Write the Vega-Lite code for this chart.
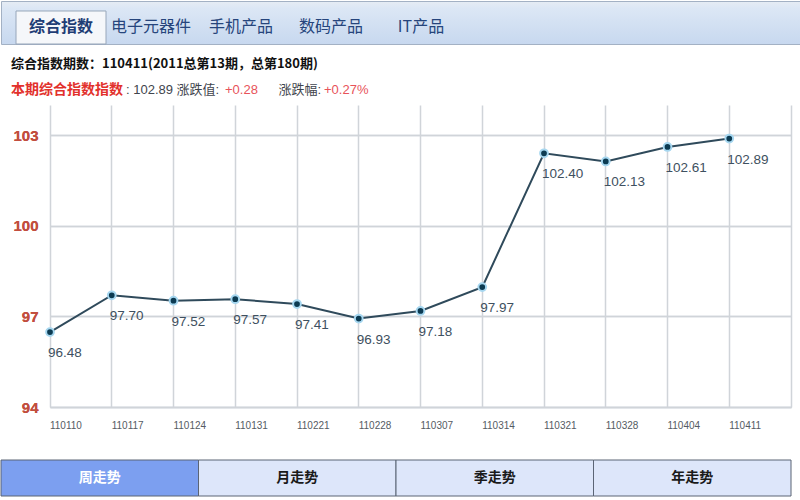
{
  "$schema": "https://vega.github.io/schema/vega-lite/v6.json",
  "padding": 0,
  "spacing": 0,
  "background": "white",
  "config": {"view": {"stroke": null}, "font": "Noto Sans CJK SC"},
  "resolve": {"scale": {"x": "independent", "y": "independent", "color": "independent", "fill": "independent"}},
  "vconcat": [
    {
      "width": 800,
      "height": 43,
      "view": {
        "fill": {"gradient": "linear", "x1": 0, "y1": 0, "x2": 0, "y2": 1,
          "stops": [{"offset": 0, "color": "#e6ecf4"}, {"offset": 0.15, "color": "#dce7f5"}, {"offset": 1, "color": "#c7d8ef"}]},
        "stroke": "#a3b1c4"
      },
      "data": {"values": [
        {"tab": "综合指数", "state": "active"},
        {"tab": "电子元器件", "state": "idle"},
        {"tab": "手机产品", "state": "idle"},
        {"tab": "数码产品", "state": "idle"},
        {"tab": "IT产品", "state": "idle"}
      ]},
      "encoding": {
        "x": {"field": "tab", "type": "nominal", "sort": null,
          "scale": {"type": "band", "range": [15, 465], "paddingInner": 0, "paddingOuter": 0, "round": false},
          "axis": null},
        "y": {"datum": "tabs", "type": "nominal",
          "scale": {"type": "band", "paddingInner": 0, "paddingOuter": 0.1515, "align": 1, "round": false},
          "axis": null}
      },
      "layer": [
        {"transform": [{"filter": "datum.state === 'active'"}],
         "mark": {"type": "rect", "fill": "#f5f7fa", "stroke": "#97a6ba", "strokeWidth": 1}},
        {"transform": [{"filter": "datum.state === 'active'"}],
         "mark": {"type": "text", "fontSize": 16, "fontWeight": "bold", "color": "#1f3d75", "font": "Noto Sans CJK SC"},
         "encoding": {"text": {"field": "tab"}}},
        {"transform": [{"filter": "datum.state === 'idle'"}],
         "mark": {"type": "text", "fontSize": 16, "color": "#26457c", "font": "Noto Sans CJK SC"},
         "encoding": {"text": {"field": "tab"}}}
      ]
    },
    {
      "width": 800,
      "height": 60,
      "data": {"values": [
        {"line": "l1", "slot": "k0", "tone": "head", "txt": "综合指数期数：110411(2011总第13期，总第180期)"},
        {"line": "l2", "slot": "k0", "tone": "label", "txt": "本期综合指数指数"},
        {"line": "l2", "slot": "k1", "tone": "plain", "txt": ": 102.89  涨跌值:"},
        {"line": "l2", "slot": "k2", "tone": "up", "txt": "+0.28"},
        {"line": "l2", "slot": "k3", "tone": "plain", "txt": "涨跌幅:"},
        {"line": "l2", "slot": "k3", "tone": "up", "txt": "+0.27%"}
      ]},
      "encoding": {
        "y": {"field": "line", "type": "nominal", "sort": null,
          "scale": {"type": "point", "domain": ["l1", "l2"], "padding": 0.654, "align": 0.559, "round": false},
          "axis": null},
        "color": {"field": "tone", "type": "nominal",
          "scale": {"domain": ["head", "label", "up", "plain"], "range": ["#111111", "#e2312c", "#e8535a", "#3f454d"]},
          "legend": null},
        "text": {"field": "txt"}
      },
      "layer": [
        {"transform": [{"filter": "datum.slot === 'k0' && datum.line === 'l1'"}],
         "mark": {"type": "text", "align": "left", "fontSize": 13, "fontWeight": "bold", "font": "Noto Sans CJK SC"},
         "encoding": {"x": {"field": "slot", "type": "nominal", "bandPosition": 0,
           "scale": {"type": "band", "domain": ["k0"], "range": [10, 800], "paddingInner": 0, "paddingOuter": 0, "round": false}, "axis": null}}},
        {"transform": [{"filter": "datum.slot === 'k0' && datum.line === 'l2'"}],
         "mark": {"type": "text", "align": "left", "fontSize": 14, "fontWeight": "bold", "font": "Noto Sans CJK SC"},
         "encoding": {"x": {"field": "slot", "type": "nominal", "bandPosition": 0,
           "scale": {"type": "band", "domain": ["k0"], "range": [10, 800], "paddingInner": 0, "paddingOuter": 0, "round": false}, "axis": null}}},
        {"transform": [{"filter": "datum.slot === 'k1' || datum.slot === 'k2' || (datum.slot === 'k3' && datum.tone === 'up')"}],
         "mark": {"type": "text", "align": "left", "dx": 1, "fontSize": 13, "font": "Liberation Sans, Noto Sans CJK SC"},
         "encoding": {"x": {"field": "slot", "type": "nominal", "sort": null,
           "scale": {"type": "point", "domain": ["k1", "k2", "k3"], "range": [124, 322], "padding": 0, "round": false}, "axis": null}}},
        {"transform": [{"filter": "datum.slot === 'k3' && datum.tone === 'plain'"}],
         "mark": {"type": "text", "align": "right", "dx": -2, "fontSize": 13, "font": "Liberation Sans, Noto Sans CJK SC"},
         "encoding": {"x": {"field": "slot", "type": "nominal", "sort": null,
           "scale": {"type": "point", "domain": ["k1", "k2", "k3"], "range": [124, 322], "padding": 0, "round": false}, "axis": null}}}
      ],
      "resolve": {"scale": {"x": "independent"}}
    },
    {
      "width": 790,
      "height": 302,
      "data": {"values": [
        {"period": "110110", "index": 96.48},
        {"period": "110117", "index": 97.70},
        {"period": "110124", "index": 97.52},
        {"period": "110131", "index": 97.57},
        {"period": "110221", "index": 97.41},
        {"period": "110228", "index": 96.93},
        {"period": "110307", "index": 97.18},
        {"period": "110314", "index": 97.97},
        {"period": "110321", "index": 102.40},
        {"period": "110328", "index": 102.13},
        {"period": "110404", "index": 102.61},
        {"period": "110411", "index": 102.89}
      ]},
      "encoding": {
        "x": {"field": "period", "type": "ordinal", "sort": null, "bandPosition": 0,
          "scale": {"type": "band", "range": [49, 790], "paddingInner": 0, "paddingOuter": 0, "align": 0, "round": false},
          "axis": {"title": null, "bandPosition": 0, "labelAlign": "left", "labelAngle": 0, "labelPadding": 13,
            "labelOffset": -30.9, "labelFontSize": 10, "labelColor": "#555b63", "labelFont": "Liberation Sans",
            "ticks": false, "domain": true, "domainColor": "#d0d4d9", "domainWidth": 1.5,
            "grid": true, "gridColor": "#d0d4d9", "gridWidth": 1.5, "minExtent": 52, "maxExtent": 52}},
        "y": {"field": "index", "type": "quantitative",
          "scale": {"domain": [94, 104], "nice": false, "zero": false},
          "axis": {"title": null, "values": [94, 97, 100, 103], "offset": -49, "labelColor": "#c24e3e", "labelFontSize": 15,
            "labelFontWeight": "bold", "labelFont": "Liberation Sans", "labelPadding": 12,
            "ticks": false, "domain": false, "grid": true, "gridColor": "#d0d4d9", "gridWidth": 1.5,
            "minExtent": 0, "maxExtent": 0}}
      },
      "layer": [
        {"mark": {"type": "line", "color": "#2f4a5b", "strokeWidth": 2}},
        {"mark": {"type": "point", "filled": true, "size": 60, "fill": "#0c3b52", "stroke": "#a6d7f0", "strokeWidth": 2, "opacity": 1},
         "encoding": {"y": {"field": "index", "type": "quantitative",
           "axis": {"orient": "right", "title": null, "labels": false, "ticks": false, "grid": false, "domain": true,
             "domainColor": "#d0d4d9", "domainWidth": 1.5, "minExtent": 0, "maxExtent": 0}}}},
        {"mark": {"type": "text", "align": "left", "baseline": "top", "dx": -2, "dy": 14, "fontSize": 13.5,
           "font": "Liberation Sans", "color": "#3e5060"},
         "encoding": {"text": {"field": "index", "type": "quantitative", "format": ".2f"}}}
      ],
      "resolve": {"axis": {"y": "independent"}}
    },
    {
      "width": 790,
      "height": 36,
      "data": {"values": [
        {"tab": "周走势", "state": "active"},
        {"tab": "月走势", "state": "idle"},
        {"tab": "季走势", "state": "idle"},
        {"tab": "年走势", "state": "idle"}
      ]},
      "encoding": {
        "x": {"field": "tab", "type": "nominal", "sort": null,
          "scale": {"type": "band", "paddingInner": 0, "paddingOuter": 0, "round": false},
          "axis": null}
      },
      "layer": [
        {"mark": {"type": "bar", "stroke": "#5b6475", "strokeWidth": 1},
         "encoding": {"fill": {"field": "state", "type": "nominal",
           "scale": {"domain": ["active", "idle"], "range": ["#7c9ff0", "#dde6fa"]}, "legend": null}}},
        {"mark": {"type": "text", "fontSize": 14, "fontWeight": "bold", "font": "Noto Sans CJK SC"},
         "encoding": {"text": {"field": "tab"},
           "color": {"field": "state", "type": "nominal",
             "scale": {"domain": ["active", "idle"], "range": ["#ffffff", "#1a1a1a"]}, "legend": null}}}
      ]
    }
  ]
}
